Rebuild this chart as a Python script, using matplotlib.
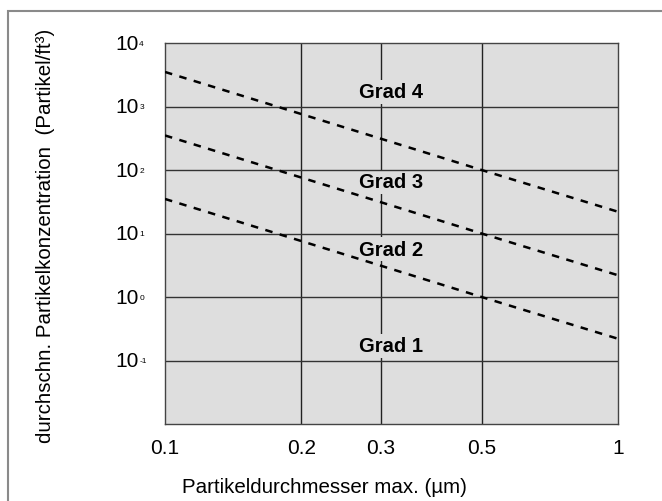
import matplotlib
matplotlib.use("Agg")
import matplotlib.pyplot as plt
from matplotlib.patches import Rectangle

plt.rcParams['font.family'] = ['Liberation Sans', 'DejaVu Sans']

# particle size (um) and concentration per grade (particles/ft3)
particle_size = [0.1, 0.2, 0.3, 0.5, 1.0]
grade4 = [3500, 760, 310, 100, 22]
grade3 = [350, 76, 31, 10, 2.2]
grade2 = [35, 7.6, 3.1, 1.0, 0.22]

grade_labels = ["Grad 4", "Grad 3", "Grad 2", "Grad 1"]
label_y = [1700, 65, 5.7, 0.17]

x_ticks = [0.1, 0.2, 0.3, 0.5, 1]
x_ticklabels = ["0.1", "0.2", "0.3", "0.5", "1"]
y_ticks = [1e-1, 1e0, 1e1, 1e2, 1e3, 1e4]
y_exponents = ["-1", "0", "1", "2", "3", "4"]

fig = plt.figure(figsize=(6.62, 5.02), dpi=100)
fig.patches.append(Rectangle((8 / 662, -0.1), 1.2, 1 - 12 / 502 + 0.1,
                             transform=fig.transFigure, fill=False,
                             edgecolor="#8a8a8a", linewidth=1.5))

ax = fig.add_axes([165 / 662, 77 / 502, 453 / 662, 381 / 502])
ax.set_facecolor("#dedede")
ax.set_xscale("log")
ax.set_yscale("log")
ax.set_xlim(0.1, 1)
ax.set_ylim(1e-2, 1e4)

# vertical lines sit behind the labels, horizontal ones in front
for v in [0.2, 0.3, 0.5]:
    ax.axvline(v, color="#222222", lw=1, zorder=1)
for v in y_ticks[:-1]:
    ax.axhline(v, color="#333333", lw=1, zorder=2.5)

for series in [grade4, grade3, grade2]:
    ax.plot(particle_size, series, color="black", lw=1.8, ls=(0, (3, 3)), zorder=3)

for lab, yv in zip(grade_labels, label_y):
    ax.text(0.315, yv, lab, ha="center", va="center", fontsize=14.5, fontweight="bold",
            bbox=dict(facecolor="#dedede", edgecolor="none", pad=2), zorder=2)

ax.set_xticks(x_ticks)
ax.set_xticklabels(x_ticklabels)
ax.minorticks_off()
ax.set_yticks(y_ticks)
ax.set_yticklabels([])
ax.tick_params(length=0, labelsize=15, pad=10)

# y labels: big "10" with a tiny exponent next to it, as in the original
ytr = ax.get_yaxis_transform()
for v, e in zip(y_ticks, y_exponents):
    ax.text(-0.058, v, "10", transform=ytr, ha="right", va="center", fontsize=15)
    ax.text(-0.057, v, e, transform=ytr, ha="left", va="center", fontsize=6)

for s in ax.spines.values():
    s.set_color("#444444")
    s.set_linewidth(1)

fig.text(46 / 662, 0.53, "durchschn. Partikelkonzentration  (Partikel/ft³)",
         rotation=90, ha="center", va="center", fontsize=14.8)
fig.text(324 / 662, 14 / 502, "Partikeldurchmesser max. (µm)",
         ha="center", va="center", fontsize=14.8)

fig.savefig("out.png", dpi=100)
